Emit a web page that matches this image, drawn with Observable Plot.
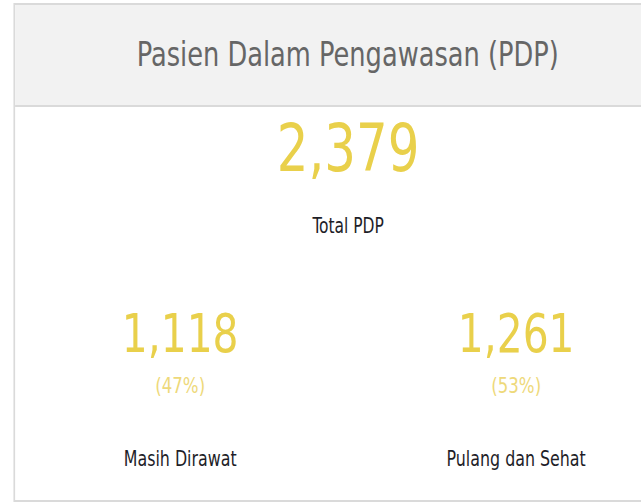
<!DOCTYPE html>
<html>
<head>
<meta charset="utf-8">
<script src="https://cdn.jsdelivr.net/npm/d3@7"></script>
<script src="https://cdn.jsdelivr.net/npm/@observablehq/plot@0.6"></script>
<style>
  html, body { margin: 0; padding: 0; background: #fff; overflow: hidden; }
  body { width: 641px; height: 503px; position: relative; font-family: "DejaVu Sans Condensed", "DejaVu Sans", sans-serif; }
  #wrap { position: absolute; left: 0; top: 0; width: 763px; height: 503px; transform: scaleX(0.84); transform-origin: 0 0; }
  #card { position: absolute; left: 15.5px; top: 3px; width: 797px; height: 499px; border: 2px solid #dadada; box-sizing: border-box; background: #fff; }
  #header { height: 102px; background: #f2f2f2; border-bottom: 2px solid #dadada; box-sizing: border-box; display: flex; align-items: center; justify-content: center; color: #666; font-size: 34px; padding-bottom: 2px; }
  #body { position: absolute; left: 0; top: 102px; }
  #body svg { display: block; }
</style>
</head>
<body>
<div id="wrap">
<div id="card">
  <div id="header"><span id="title"></span></div>
  <div id="body"></div>
</div>
</div>
<script>
const title = "Pasien Dalam Pengawasan (PDP)";
const categories = ["Masih Dirawat", "Total PDP", "Pulang dan Sehat"];
const values = [1118, 2379, 1261];
const percents = ["(47%)", "", "(53%)"];

document.getElementById("title").textContent = title;

const fmt = d3.format(",");
const rows = categories.map((c, i) => ({category: c, value: values[i], pct: percents[i]}));
const total = rows.filter(d => d.category === "Total PDP");
const parts = rows.filter(d => d.category !== "Total PDP");

const yellow = "#e9d04b";
const paleYellow = "#eed97a";
const ink = "#1e1e28";
const chart = Plot.plot({
  width: 793,
  height: 393,
  margin: 0,
  x: {type: "point", domain: categories, range: [195, 596], padding: 0, axis: null},
  style: {fontFamily: "DejaVu Sans Condensed, DejaVu Sans, sans-serif", background: "transparent"},
  marks: [
    Plot.text(total, {x: "category", text: d => fmt(d.value), frameAnchor: "top", dy: 63, lineAnchor: "bottom", fontSize: 66, fill: yellow}),
    Plot.text(total, {x: "category", text: "category", frameAnchor: "top", dy: 125.5, lineAnchor: "bottom", fontSize: 20.5, fill: ink}),
    Plot.text(parts, {x: "category", text: d => fmt(d.value), frameAnchor: "top", dy: 244, lineAnchor: "bottom", fontSize: 54, fill: yellow}),
    Plot.text(parts, {x: "category", text: "pct", frameAnchor: "top", dy: 285.5, lineAnchor: "bottom", fontSize: 22, fill: paleYellow}),
    Plot.text(parts, {x: "category", text: "category", frameAnchor: "top", dy: 358, lineAnchor: "bottom", fontSize: 21, fill: ink})
  ]
});
document.getElementById("body").appendChild(chart);
</script>
</body>
</html>
